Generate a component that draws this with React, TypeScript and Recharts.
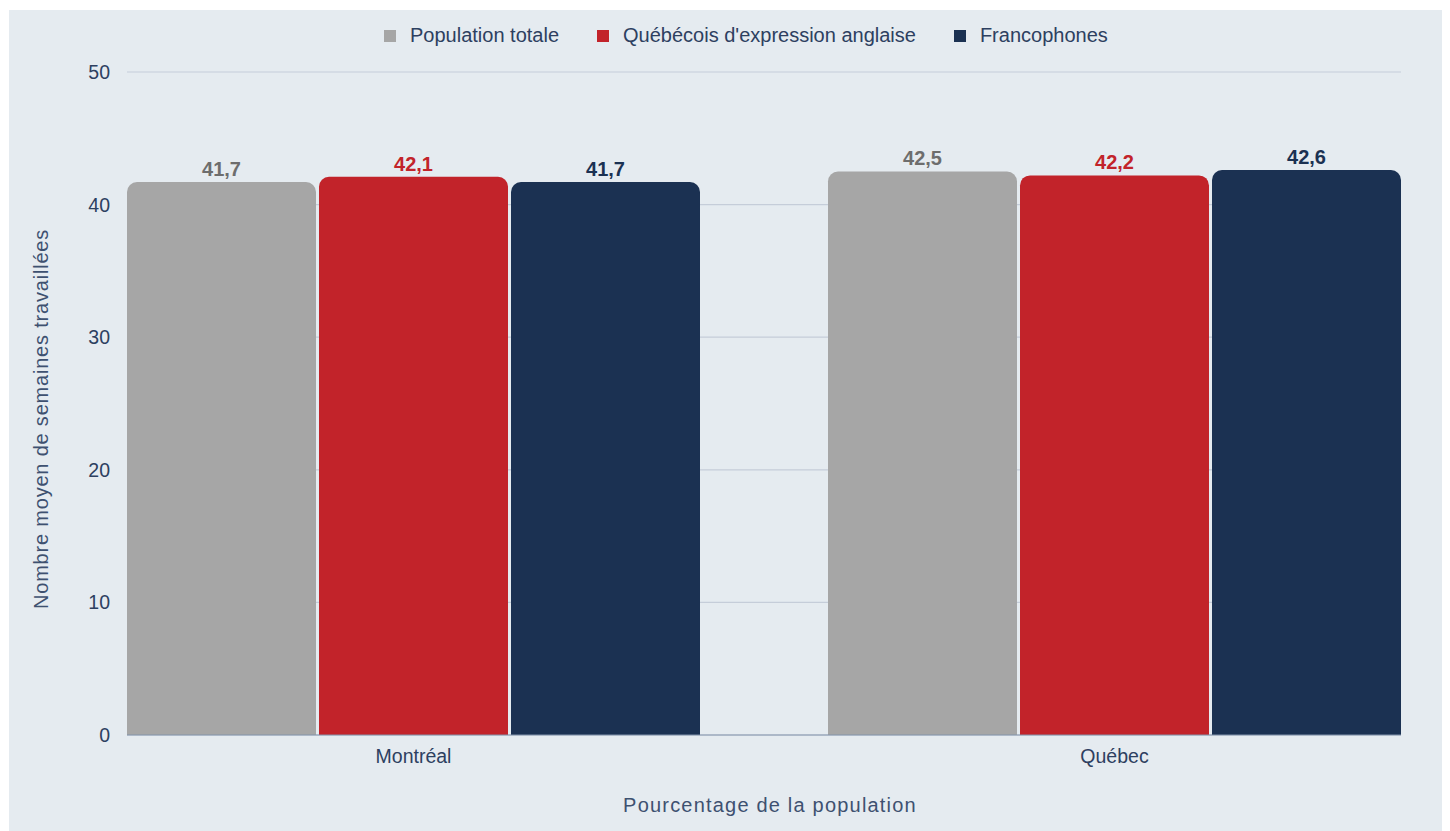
import { BarChart, Bar, XAxis, YAxis, CartesianGrid, LabelList, Legend } from 'recharts';

const regions = ['Montréal', 'Québec'];
const populationTotale = [41.7, 42.5];
const anglophones = [42.1, 42.2];
const francophones = [41.7, 42.6];
const yTicks = [0, 10, 20, 30, 40, 50];

const series = [
  { key: 'total', name: 'Population totale', color: '#a6a6a6', labelColor: '#6d6d6d' },
  { key: 'anglo', name: "Québécois d'expression anglaise", color: '#c2232a', labelColor: '#c2232a' },
  { key: 'franco', name: 'Francophones', color: '#1b3152', labelColor: '#1b3152' },
];

const data = regions.map((region, i) => ({
  region,
  total: populationTotale[i],
  anglo: anglophones[i],
  franco: francophones[i],
}));

const FONT = '"Liberation Sans", Arial, Helvetica, sans-serif';
const TEXT = '#2d4060';

const fmt = (v: any) => String(v).replace('.', ',');

function LegendContent() {
  return (
    <div style={{ display: 'flex', alignItems: 'center', fontFamily: FONT, fontSize: 20, color: TEXT }}>
      {series.map((s) => (
        <div key={s.key} style={{ display: 'flex', alignItems: 'center', marginRight: 38 }}>
          <span style={{ width: 12, height: 12, background: s.color, marginRight: 14, display: 'inline-block' }} />
          <span>{s.name}</span>
        </div>
      ))}
    </div>
  );
}

export default function App() {
  return (
    <div style={{ paddingLeft: 1, paddingTop: 2 }}>
      <div style={{ width: 1440, height: 821, background: '#e5ebf0' }}>
        <BarChart
          width={1440}
          height={821}
          data={data}
          margin={{ top: 62, right: 48, bottom: 66, left: 58 }}
          barGap={3}
          barCategoryGap={64}
        >
          <CartesianGrid vertical={false} stroke="#c5cdd9" strokeWidth={1.2} />
          <XAxis
            dataKey="region"
            padding={{ left: -64, right: -64 }}
            height={30}
            tickLine={false}
            tickSize={0}
            tickMargin={14}
            axisLine={{ stroke: '#8394ab' }}
            tick={{ fill: TEXT, fontSize: 19.5, fontFamily: FONT }}
            label={() => (
              <text x={761} y={795} textAnchor="middle" dominantBaseline="central" fill="#3e5170" fontSize={20} fontFamily={FONT} style={{ letterSpacing: 1.2 }}>
                Pourcentage de la population
              </text>
            )}
          />
          <YAxis
            width={60}
            domain={[0, 50]}
            ticks={yTicks}
            axisLine={false}
            tickLine={false}
            tickSize={0}
            tickMargin={17}
            tick={{ fill: TEXT, fontSize: 19.5, fontFamily: FONT }}
            label={() => (
              <text
                x={32}
                y={409}
                transform="rotate(-90, 32, 409)"
                textAnchor="middle"
                dominantBaseline="central"
                fill="#3e5170"
                fontSize={20}
                fontFamily={FONT}
                style={{ letterSpacing: 0.8 }}
              >
                Nombre moyen de semaines travaillées
              </text>
            )}
          />
          <Legend
            layout="horizontal"
            verticalAlign="middle"
            align="center"
            wrapperStyle={{ top: 14, left: 375, width: 'auto' }}
            content={() => <LegendContent />}
          />
          {series.map((s) => (
            <Bar key={s.key} dataKey={s.key} name={s.name} fill={s.color} radius={[10, 10, 0, 0]} isAnimationActive={false}>
              <LabelList
                dataKey={s.key}
                position="top"
                offset={6}
                formatter={fmt}
                fill={s.labelColor}
                fontSize={20}
                fontWeight="bold"
                fontFamily={FONT}
              />
            </Bar>
          ))}
        </BarChart>
      </div>
    </div>
  );
}
